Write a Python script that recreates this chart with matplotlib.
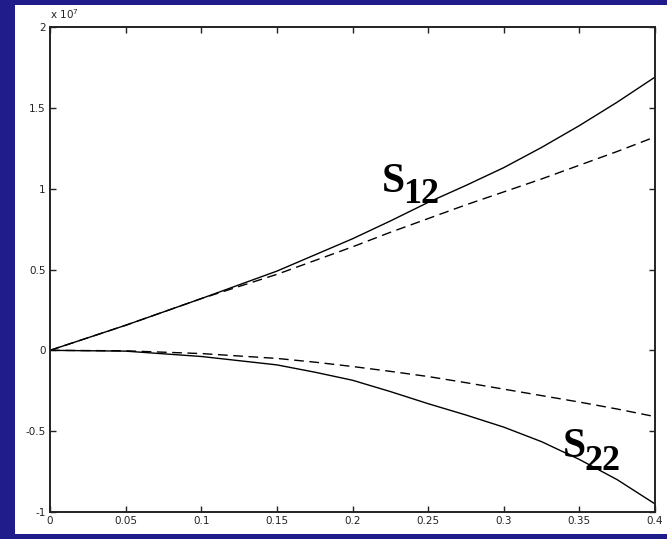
import matplotlib
matplotlib.use('Agg')

import matplotlib.pyplot as plt
from matplotlib.patches import Rectangle

# normalised thickness (x) and stiffness response, scaled by 1e7
thickness = [0.0, 0.05, 0.1, 0.15, 0.175, 0.2, 0.225, 0.25, 0.275,
             0.3, 0.325, 0.35, 0.375, 0.4]
s12_exact = [0.0, 0.155, 0.32, 0.49, 0.59, 0.69, 0.80, 0.915, 1.02,
             1.13, 1.255, 1.39, 1.535, 1.69]
s12_approx = [0.0, 0.155, 0.32, 0.47, 0.555, 0.64, 0.73, 0.815, 0.90,
              0.98, 1.06, 1.145, 1.23, 1.32]
s22_exact = [0.0, -0.005, -0.038, -0.09, -0.135, -0.185, -0.255, -0.33, -0.40,
             -0.475, -0.565, -0.675, -0.80, -0.95]
s22_approx = [0.0, -0.003, -0.02, -0.05, -0.073, -0.10, -0.13, -0.162, -0.20,
              -0.24, -0.28, -0.32, -0.363, -0.41]

xticks = [0, 0.05, 0.1, 0.15, 0.2, 0.25, 0.3, 0.35, 0.4]
xticklabels = ['0', '0.05', '0.1', '0.15', '0.2', '0.25', '0.3', '0.35', '0.4']
yticks = [-1, -0.5, 0, 0.5, 1, 1.5, 2]
yticklabels = ['-1', '-0.5', '0', '0.5', '1', '1.5', '2']

navy = '#201c8c'

fig = plt.figure(figsize=(6.67, 5.39), dpi=100, facecolor=navy)
# white plot panel on the slide background
fig.patches.append(Rectangle((15 / 667, 5 / 539), 652 / 667, 529 / 539,
                             transform=fig.transFigure, facecolor='white',
                             edgecolor='none', zorder=-10))

ax = fig.add_axes([50 / 667, 1 - 512 / 539, 605 / 667, 485 / 539])
ax.set_facecolor('white')

ax.plot(thickness, s12_exact, color='black', lw=1.0)
ax.plot(thickness, s12_approx, color='black', lw=1.0, dashes=(7, 4))
ax.plot(thickness, s22_exact, color='black', lw=1.0)
ax.plot(thickness, s22_approx, color='black', lw=1.0, dashes=(7, 4))

ax.set_xlim(0, 0.4)
ax.set_ylim(-1, 2)
ax.set_xticks(xticks)
ax.set_xticklabels(xticklabels)
ax.set_yticks(yticks)
ax.set_yticklabels(yticklabels)
ax.tick_params(direction='in', length=4, width=1, top=True, right=True,
               labelsize=7.5, colors='#222222', pad=3)
for sp in ax.spines.values():
    sp.set_linewidth(1.4)
    sp.set_color('#222222')

ax.text(0.0, 1.012, r'x 10$^7$', transform=ax.transAxes, fontsize=7.5,
        color='#222222', ha='left', va='bottom')

# curve labels in bold serif with subscripts
serif = {'family': 'Liberation Serif', 'weight': 'bold', 'color': 'black'}
ax.text(0.2195, 0.98, 'S', fontsize=30, **serif)
ax.text(0.2334, 0.91, '12', fontsize=26, **serif)
ax.text(0.339, -0.66, 'S', fontsize=30, **serif)
ax.text(0.3537, -0.74, '22', fontsize=26, **serif)

fig.savefig('out.png', dpi=100, facecolor=navy)
